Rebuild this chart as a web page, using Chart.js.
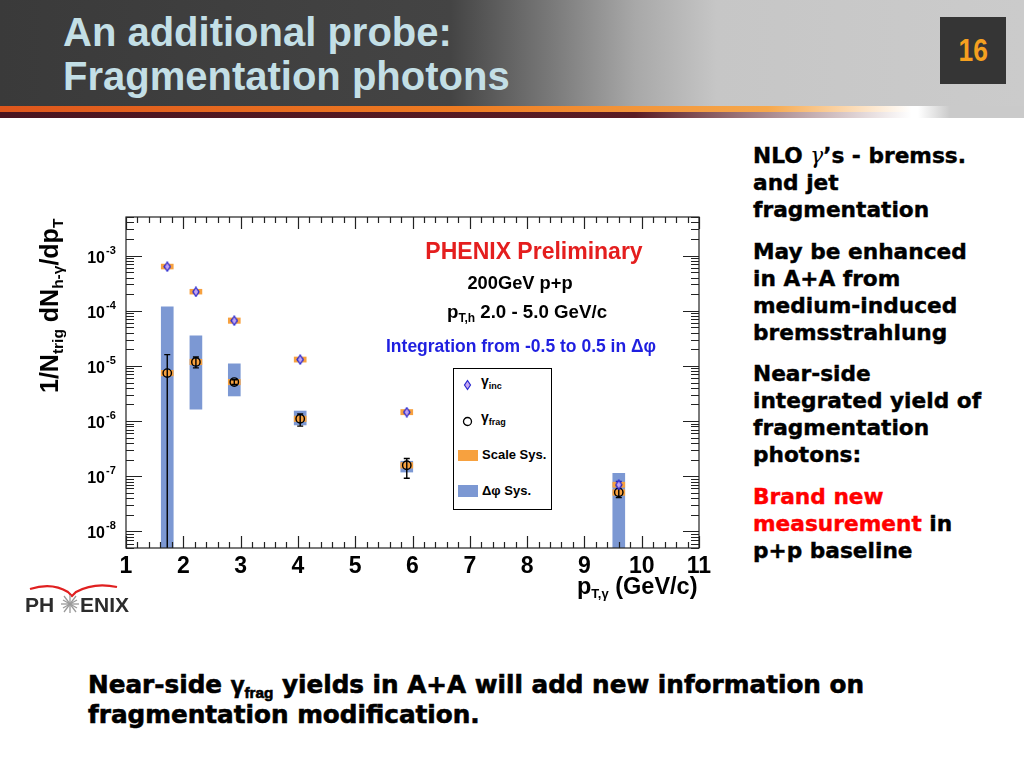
<!DOCTYPE html>
<html>
<head>
<meta charset="utf-8">
<title>Fragmentation photons</title>
<script src="https://cdn.jsdelivr.net/npm/chart.js@4.4.1/dist/chart.umd.min.js"></script>
<style>
  body { margin:0; width:1024px; height:768px; position:relative; overflow:hidden; background:#fff; font-family:"Liberation Sans", Arial, sans-serif; }
  .abs { position:absolute; white-space:nowrap; }
  #head { left:0; top:0; width:1024px; height:106px; background:linear-gradient(90deg,#3a3a3a 0%,#444 44%,#7a7a7a 54%,#a8a8a8 62%,#c6c6c6 70%,#cbcbcb 100%); }
  #band1 { left:0; top:106px; width:1024px; height:6px; background:linear-gradient(90deg,#de561c 0%,#ee7c22 45%,#f6a84c 75%,#fff 89%); }
  #band2 { left:0; top:112px; width:1024px; height:6px; background:linear-gradient(90deg,#4a1420 0%,#5a1c24 62%,#fff 89%); }
  #grayR { left:918px; top:106px; width:106px; height:12px; background:linear-gradient(90deg,rgba(202,202,202,0) 0%,#cacaca 30%); }
  #title { left:63px; top:10px; color:#c3dfe6; font:bold 40px/44px "Liberation Sans", Arial, sans-serif; }
  #pagebox { left:940px; top:17px; width:66px; height:67px; background:#353535; color:#f5a020; font:bold 31px/67px "Liberation Sans", sans-serif; text-align:center; }
  #pagebox span { display:inline-block; transform:scaleX(0.85); }
  #chartWrap { left:0; top:150px; width:740px; height:450px; }
  .note { font-weight:bold; color:#000; }
  #right { left:753px; top:142px; font:bold 21.7px/27px "DejaVu Sans", sans-serif; color:#000; -webkit-text-stroke:0.4px #000; }
  #right p { margin:0 0 14.5px 0; }
  #right .red { color:#f00; -webkit-text-stroke:0.4px #f00; }
  #bottom { left:88px; top:670px; font:bold 24.7px/30px "DejaVu Sans", sans-serif; color:#000; -webkit-text-stroke:0.6px #000; }
  sub { font-size:62%; vertical-align:-0.3em; line-height:0; }
  .legline { font:bold 13px "Liberation Sans", sans-serif; color:#000; }
</style>
</head>
<body>
<div id="head" class="abs"></div>
<div id="band1" class="abs"></div>
<div id="band2" class="abs"></div>
<div id="grayR" class="abs"></div>
<div id="title" class="abs">An additional probe:<br>Fragmentation photons</div>
<div id="pagebox" class="abs"><span>16</span></div>

<div id="chartWrap" class="abs"><canvas id="yieldChart" width="740" height="450"></canvas></div>

<!-- axis titles -->
<div class="abs note" style="left:577px; top:573px; font-size:23.5px;">p<sub style="font-size:13px;">T,γ</sub> (GeV/c)</div>
<div class="abs note" style="left:35px; top:393px; font-size:25px; transform:rotate(-90deg); transform-origin:left top;">1/N<sub style="font-size:15.5px;">trig</sub> dN<sub style="font-size:15.5px;">h-γ</sub>/dp<sub style="font-size:15.5px;">T</sub></div>

<!-- in-plot annotations -->
<div class="abs note" style="left:384px; width:300px; text-align:center; top:238px; font-size:23px; color:#e41e1e;">PHENIX Preliminary</div>
<div class="abs note" style="left:370px; width:300px; text-align:center; top:272px; font-size:18.3px;">200GeV p+p</div>
<div class="abs note" style="left:447px; top:301px; font-size:18.7px;">p<sub style="font-size:12px;">T,h</sub> 2.0 - 5.0 GeV/c</div>
<div class="abs note" style="left:386px; top:336px; font-size:17.5px; color:#1f1fe0;">Integration from -0.5 to 0.5 in Δφ</div>

<!-- legend -->
<div class="abs" style="left:453px; top:368px; width:97px; height:140px; border:1px solid #000; background:#fff;"></div>
<svg class="abs" style="left:463px; top:379px;" width="9" height="12"><path d="M4.5 1.5 L7.5 6 L4.5 10.5 L1.5 6 Z" fill="#c8a8f0" stroke="#2a2ad0" stroke-width="1.2"/></svg>
<div class="abs legline" style="left:481px; top:373px; font-size:14px;">γ<sub style="font-size:9px;">inc</sub></div>
<svg class="abs" style="left:462px; top:416px;" width="11" height="11"><circle cx="5.5" cy="5.5" r="4" fill="none" stroke="#000" stroke-width="1.3"/></svg>
<div class="abs legline" style="left:481px; top:409px; font-size:14px;">γ<sub style="font-size:9px;">frag</sub></div>
<div class="abs" style="left:458px; top:450px; width:20px; height:11px; background:#f7a13f;"></div>
<div class="abs legline" style="left:482px; top:447px;">Scale Sys.</div>
<div class="abs" style="left:458px; top:485px; width:20px; height:12px; background:#7c98d3;"></div>
<div class="abs legline" style="left:482px; top:483px;">Δφ Sys.</div>

<!-- logo -->
<svg class="abs" style="left:24px; top:580px;" width="114" height="36">
  <path d="M6 9 Q28 2 44 12 L48 16 L52 12 Q70 2 93 7" fill="none" stroke="#e02020" stroke-width="2.2"/>
  <g stroke="#9a9a9a" stroke-width="1.3">
    <line x1="40" y1="16" x2="52" y2="32"/><line x1="52" y1="16" x2="40" y2="32"/>
    <line x1="46" y1="15" x2="46" y2="33"/><line x1="37" y1="24" x2="55" y2="24"/>
    <line x1="39" y1="20" x2="53" y2="28"/><line x1="39" y1="28" x2="53" y2="20"/>
  </g>
  <text x="1" y="32" font-family="Liberation Sans" font-weight="bold" font-size="21" fill="#2c2c2c">PH</text>
  <text x="56" y="32" font-family="Liberation Sans" font-weight="bold" font-size="21" fill="#2c2c2c">ENIX</text>
</svg>

<div id="right" class="abs">
  <p>NLO <span style="font-family:'DejaVu Serif';font-weight:normal;font-style:italic;-webkit-text-stroke:0;">γ</span>’s - bremss.<br>and jet<br>fragmentation</p>
  <p>May be enhanced<br>in A+A from<br>medium-induced<br>bremsstrahlung</p>
  <p>Near-side<br>integrated yield of<br>fragmentation<br>photons:</p>
  <p><span class="red">Brand new<br>measurement</span> in<br>p+p baseline</p>
</div>

<div id="bottom" class="abs">Near-side <span style="font-family:'Liberation Sans';">γ</span><sub style="font-family:'Liberation Sans';">frag</sub> yields in A+A will add new information on<br>fragmentation modification.</div>

<script>
// axis ranges
const X_MIN = 1, X_MAX = 11;
const Y_MIN = 5e-9, Y_MAX = 5e-3;

// p_T of the photon bins
const ptGamma = [1.72, 2.22, 2.89, 4.04, 5.90, 9.60];

// inclusive photons
const yieldInc   = [6.3e-4, 2.2e-4, 6.6e-5, 1.3e-5, 1.45e-6, 7.0e-8];
const incErrLo   = [6.1e-4, 2.13e-4, 6.4e-5, 1.26e-5, 1.40e-6, 6.0e-8];
const incErrHi   = [6.5e-4, 2.27e-4, 6.8e-5, 1.34e-5, 1.50e-6, 8.0e-8];
const scaleIncLo = [5.7e-4, 2.0e-4, 5.9e-5, 1.17e-5, 1.30e-6, 6.3e-8];
const scaleIncHi = [7.0e-4, 2.45e-4, 7.4e-5, 1.45e-5, 1.62e-6, 7.8e-8];

// fragmentation photons
const yieldFrag   = [7.4e-6, 1.18e-5, 5.1e-6, 1.1e-6, 1.58e-7, 5.1e-8];
const fragErrLo   = [1e-9, 9.2e-6, 4.6e-6, 8.1e-7, 9.2e-8, 4.1e-8];
const fragErrHi   = [1.6e-5, 1.45e-5, 5.6e-6, 1.34e-6, 2.1e-7, 6.8e-8];
const scaleFragLo = [6.6e-6, 1.05e-5, 4.55e-6, 9.8e-7, 1.40e-7, 4.5e-8];
const scaleFragHi = [8.3e-6, 1.32e-5, 5.7e-6, 1.23e-6, 1.77e-7, 5.7e-8];
const dphiSysLo   = [1e-9, 1.65e-6, 2.85e-6, 8.5e-7, 1.19e-7, 1e-9];
const dphiSysHi   = [1.18e-4, 3.5e-5, 1.09e-5, 1.52e-6, 1.87e-7, 1.13e-7];

// tall open diamond like the ROOT marker
function diamondMarker() {
    const c = document.createElement('canvas');
    c.width = 8; c.height = 11;
    const g = c.getContext('2d');
    g.beginPath();
    g.moveTo(4, 1); g.lineTo(7, 5.5); g.lineTo(4, 10); g.lineTo(1, 5.5); g.closePath();
    g.fillStyle = '#c4a4f0'; g.fill();
    g.strokeStyle = '#2a2ad0'; g.lineWidth = 1.3; g.stroke();
    return c;
}

function drawErrors(chart, xs, lo, hi, color) {
    const { ctx, chartArea: a, scales: { x, y } } = chart;
    ctx.save();
    ctx.beginPath();
    ctx.rect(a.left, a.top, a.right - a.left, a.bottom - a.top);
    ctx.clip();
    ctx.strokeStyle = color;
    ctx.lineWidth = 1.4;
    xs.forEach((v, i) => {
        const px = x.getPixelForValue(v);
        const p1 = y.getPixelForValue(lo[i]);
        const p2 = y.getPixelForValue(hi[i]);
        ctx.beginPath();
        ctx.moveTo(px, p1); ctx.lineTo(px, p2);
        ctx.moveTo(px - 3, p1); ctx.lineTo(px + 3, p1);
        ctx.moveTo(px - 3, p2); ctx.lineTo(px + 3, p2);
        ctx.stroke();
    });
    ctx.restore();
}

// ROOT style frame: inward ticks on all four sides, labels drawn by hand
const rootFrame = {
    id: 'rootFrame',
    beforeDatasetDraw(chart, args) {
        if (args.index !== 3) return;
        drawErrors(chart, ptGamma, fragErrLo, fragErrHi, '#000');
        drawErrors(chart, ptGamma, incErrLo, incErrHi, '#2020c0');
    },
    afterDraw(chart) {
        const { ctx, chartArea: a, scales: { x, y } } = chart;
        ctx.save();
        ctx.strokeStyle = '#222';
        ctx.lineWidth = 1.2;
        ctx.strokeRect(a.left, a.top, a.right - a.left, a.bottom - a.top);
        ctx.beginPath();
        for (let k = 0; k <= (X_MAX - X_MIN) * 5; k++) {
            const px = Math.round(x.getPixelForValue(X_MIN + k * 0.2)) + 0.5;
            const len = k % 5 === 0 ? 12 : 6;
            ctx.moveTo(px, a.bottom); ctx.lineTo(px, a.bottom - len);
            ctx.moveTo(px, a.top); ctx.lineTo(px, a.top + len);
        }
        for (let e = -9; e <= -3; e++) {
            for (let m = 1; m <= 9; m++) {
                const v = m * Math.pow(10, e);
                if (v < Y_MIN || v > Y_MAX) continue;
                const py = Math.round(y.getPixelForValue(v)) + 0.5;
                const len = m === 1 ? 16 : 8;
                ctx.moveTo(a.left, py); ctx.lineTo(a.left + len, py);
                ctx.moveTo(a.right, py); ctx.lineTo(a.right - len, py);
            }
        }
        ctx.stroke();

        ctx.fillStyle = '#000';
        ctx.font = 'bold 23px "Liberation Sans"';
        ctx.textAlign = 'center';
        for (let v = X_MIN; v <= X_MAX; v++) {
            ctx.fillText(String(v), x.getPixelForValue(v), a.bottom + 25);
        }
        for (let e = -8; e <= -3; e++) {
            const py = y.getPixelForValue(Math.pow(10, e));
            ctx.textAlign = 'right';
            ctx.font = 'bold 16px "Liberation Sans"';
            ctx.fillText('10', a.left - 21, py + 7);
            ctx.textAlign = 'left';
            ctx.font = 'bold 11px "Liberation Sans"';
            ctx.fillText('-' + (-e), a.left - 20, py - 2);
        }
        ctx.restore();
    }
};

const hiddenAxis = { display: false, grid: { display: false }, ticks: { display: false }, border: { display: false } };

new Chart(document.getElementById('yieldChart'), {
    type: 'bar',
    data: {
        datasets: [
            {
                label: 'Δφ Sys.',
                data: ptGamma.map((v, i) => ({ x: v, y: [dphiSysLo[i], dphiSysHi[i]] })),
                backgroundColor: '#7c98d3', barThickness: 12, grouped: false, clip: 0, order: 5
            },
            {
                label: 'Scale Sys. inc',
                data: ptGamma.map((v, i) => ({ x: v, y: [scaleIncLo[i], scaleIncHi[i]] })),
                backgroundColor: '#f7a13f', barThickness: 12, grouped: false, clip: 0, order: 4
            },
            {
                label: 'Scale Sys. frag',
                data: ptGamma.map((v, i) => ({ x: v, y: [scaleFragLo[i], scaleFragHi[i]] })),
                backgroundColor: '#f7a13f', barThickness: 12, grouped: false, clip: 0, order: 4
            },
            {
                type: 'scatter',
                label: 'γ frag',
                data: ptGamma.map((v, i) => ({ x: v, y: yieldFrag[i] })),
                pointStyle: 'circle', pointRadius: 4.2, borderColor: '#000', borderWidth: 1.4,
                backgroundColor: 'rgba(0,0,0,0)', order: 2
            },
            {
                type: 'scatter',
                label: 'γ inc',
                data: ptGamma.map((v, i) => ({ x: v, y: yieldInc[i] })),
                pointStyle: diamondMarker(), order: 1
            }
        ]
    },
    options: {
        responsive: false,
        animation: false,
        events: [],
        layout: { padding: { left: 126, top: 67, right: 41, bottom: 52 } },
        plugins: { legend: { display: false }, tooltip: { enabled: false } },
        scales: {
            x: Object.assign({ type: 'linear', min: X_MIN, max: X_MAX, offset: false }, hiddenAxis),
            y: Object.assign({ type: 'logarithmic', min: Y_MIN, max: Y_MAX }, hiddenAxis)
        }
    },
    plugins: [rootFrame]
});
</script>
</body>
</html>
